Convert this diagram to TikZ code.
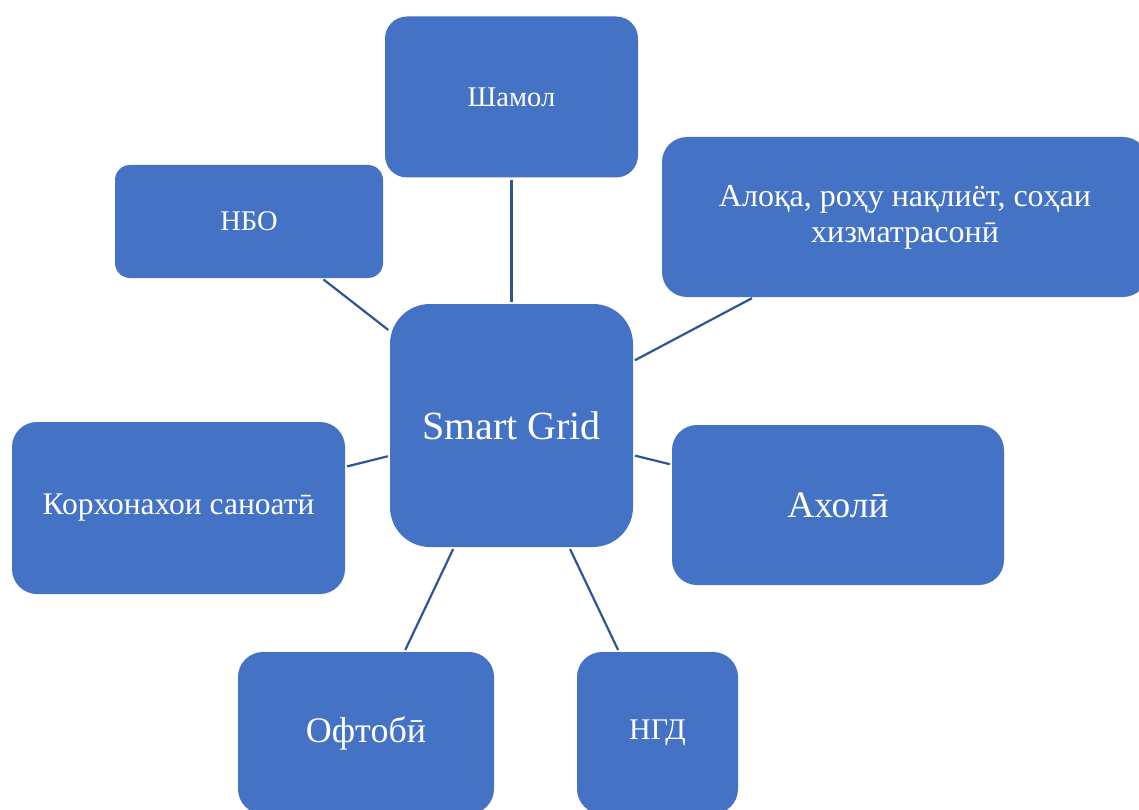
\documentclass[tikz,border=0pt]{standalone}
\usepackage{fontspec}
\setmainfont{Liberation Serif}
\begin{document}
\begin{tikzpicture}[x=1pt,y=-1pt,
  box/.style={fill=boxblue, draw=none, text=white, inner sep=0pt, align=center},
  conn/.style={draw=lineblue, line width=2.2pt, shorten <=2pt, shorten >=2pt}]
\definecolor{boxblue}{HTML}{4472C4}
\definecolor{lineblue}{HTML}{2F5597}
\clip (0,0) rectangle (1139,810);
\fill[white] (0,0) rectangle (1139,810);
\node[box, minimum width=253pt, minimum height=161pt, rounded corners=22pt, font=\fontsize{28.5}{33}\selectfont] (sham) at (511.5,97) {Шамол};
\node[box, minimum width=268pt, minimum height=113pt, rounded corners=15pt, font=\fontsize{28.5}{33}\selectfont] (nbo) at (249,221.5) {НБО};
\node[box, minimum width=486pt, minimum height=160pt, rounded corners=25pt, font=\fontsize{32}{36}\selectfont] (alo) at (905,217) {Алоқа, роҳу нақлиёт, соҳаи\\хизматрасонӣ};
\node[box, minimum width=243pt, minimum height=243pt, rounded corners=40pt, font=\fontsize{40}{46}\selectfont] (sg) at (511.5,425.5) {Smart Grid};
\node[box, minimum width=333pt, minimum height=172pt, rounded corners=25pt, font=\fontsize{31.5}{36}\selectfont] (kor) at (178.5,508) {Корхонахои саноатӣ};
\node[box, minimum width=332pt, minimum height=160pt, rounded corners=25pt, font=\fontsize{37.5}{42}\selectfont] (aho) at (838,505) {Ахолӣ};
\node[box, minimum width=256pt, minimum height=162pt, rounded corners=25pt, font=\fontsize{36}{42}\selectfont] (oft) at (366,733) {Офтобӣ};
\node[box, minimum width=161pt, minimum height=162pt, rounded corners=25pt, font=\fontsize{30}{34}\selectfont] (ngd) at (657.5,733) {НГД};
\draw[conn] (sg) -- (sham);
\draw[conn] (sg) -- (nbo);
\draw[conn] (sg) -- (alo);
\draw[conn] (sg) -- (kor);
\draw[conn] (sg) -- (aho);
\draw[conn] (sg) -- (oft);
\draw[conn] (sg) -- (ngd);
\end{tikzpicture}
\end{document}
